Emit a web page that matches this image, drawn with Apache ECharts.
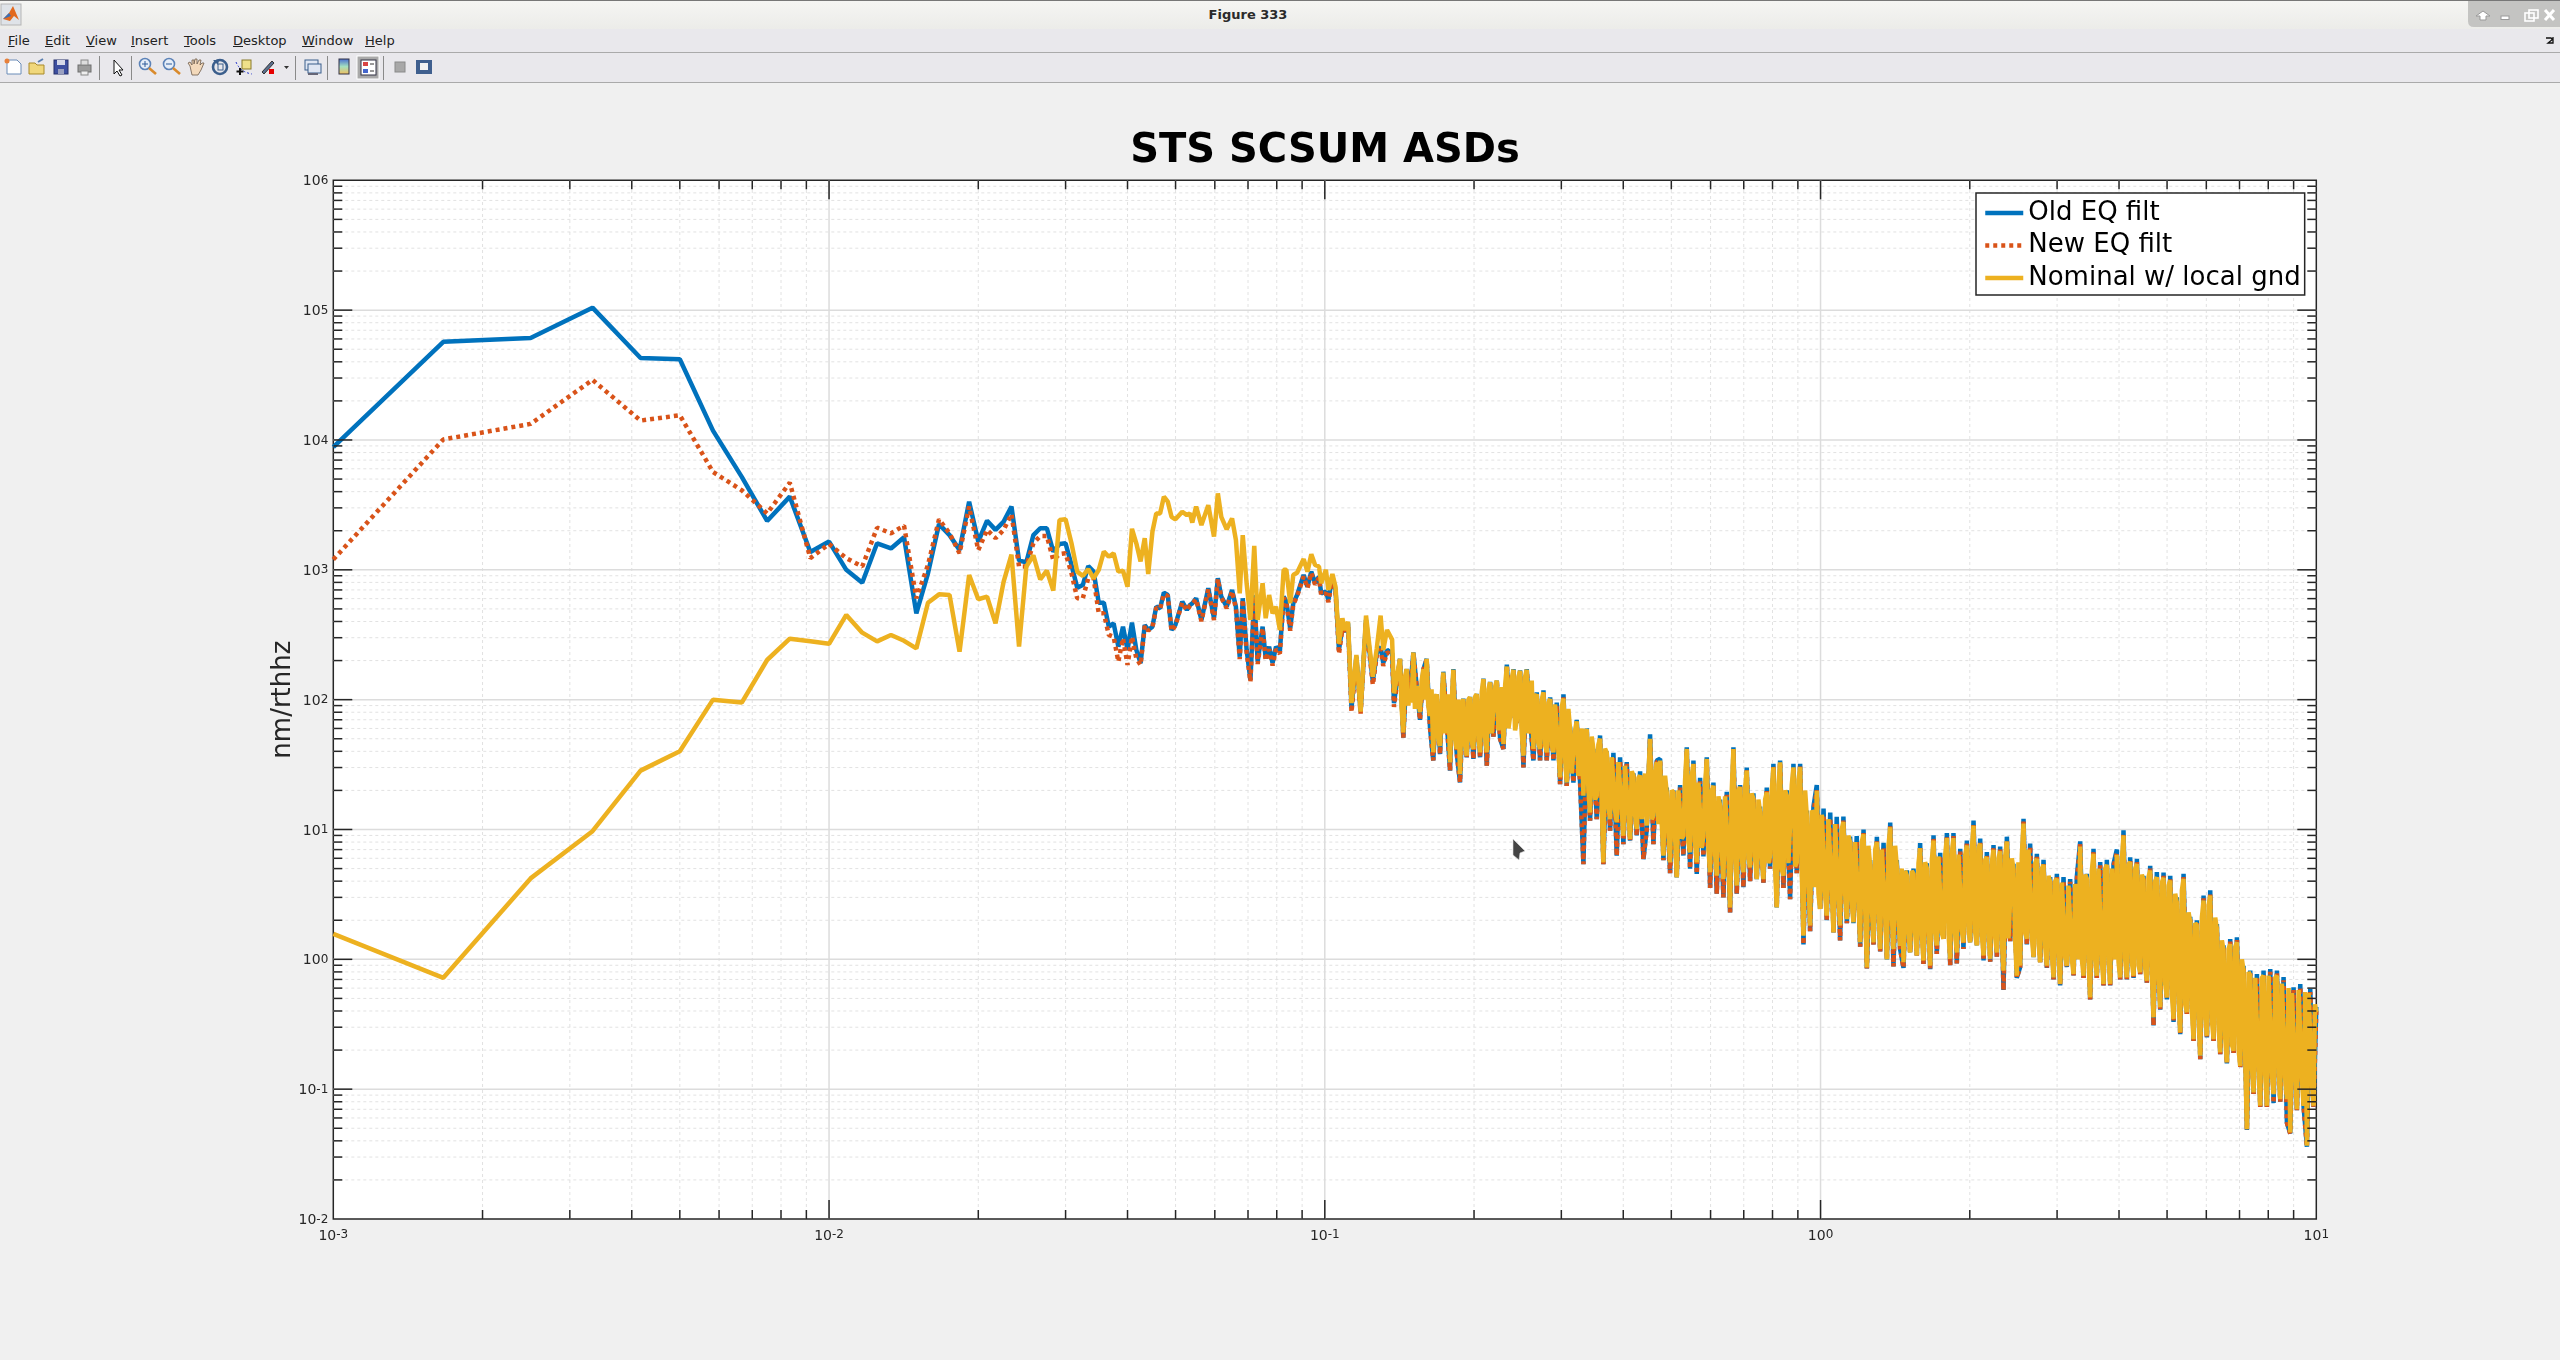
<!DOCTYPE html>
<html>
<head>
<meta charset="utf-8">
<title>Figure 333</title>
<script src="https://cdn.jsdelivr.net/npm/echarts@6/dist/echarts.min.js"></script>
<style>
html,body{margin:0;padding:0;background:#f0f0f0;overflow:hidden;width:2560px;height:1360px;font-family:"DejaVu Sans",sans-serif;}
#chart{position:absolute;left:0;top:0;width:2560px;height:1360px;}
#titlebar{position:absolute;left:0;top:0;width:2560px;height:29px;background:linear-gradient(#f5f5f3,#ecece9);border-top:1px solid #777;box-sizing:border-box;text-align:center;font:bold 13px "DejaVu Sans";line-height:27px;color:#2a2a2a;padding-right:64px;}
#menubar{position:absolute;left:0;top:29px;width:2560px;height:23px;background:#e9e8ec;border-bottom:1px solid #aaa;box-sizing:content-box;font:13px "DejaVu Sans";color:#222;}
#menubar span{position:absolute;top:4px;}
#menubar u{text-decoration:underline;}
#toolbar{position:absolute;left:0;top:53px;width:2560px;height:29px;background:#e9e8ec;border-bottom:1px solid #aaa;}
#chrome{position:absolute;left:0;top:0;pointer-events:none;}
</style>
</head>
<body>
<div id="chart"></div>
<div id="titlebar">Figure 333</div>
<div id="menubar">
<span style="left:8px"><u>F</u>ile</span><span style="left:45px"><u>E</u>dit</span><span style="left:86px"><u>V</u>iew</span><span style="left:131px"><u>I</u>nsert</span><span style="left:184px"><u>T</u>ools</span><span style="left:233px"><u>D</u>esktop</span><span style="left:302px"><u>W</u>indow</span><span style="left:365px"><u>H</u>elp</span>
</div>
<div id="toolbar"></div>
<svg id="chrome" width="2560" height="1360" xmlns="http://www.w3.org/2000/svg">
 <rect x="1" y="4" width="20" height="21" fill="#dfe3e8" stroke="#b5b5b5"/>
 <path d="M3 19 L9 13 L13 6 L19 20 L14 16 L10 21 Z" fill="#e2691e"/><path d="M3 19 L9 13 L11 16 Z" fill="#3a6fb5"/>
 <path d="M2468 1 H2560 V27 H2474 Q2468 27 2468 21 Z" fill="#c4c4c2"/>
 <path d="M2483 11 L2476 16 H2480 V20 H2486 V16 H2490 Z" fill="#fff" stroke="#999"/>
 <rect x="2501" y="16" width="8" height="3.5" fill="#fff" stroke="#999"/>
 <rect x="2525" y="13" width="9" height="8" fill="none" stroke="#fff" stroke-width="1.6"/><rect x="2529" y="10" width="9" height="8" fill="none" stroke="#fff" stroke-width="1.6"/>
 <path d="M2545 10 L2554 20 M2554 10 L2545 20" stroke="#fff" stroke-width="3"/>
 <path d="M2546 38 h5 l2 2 M2553 37 v6 h-5 l5 -4" fill="none" stroke="#111" stroke-width="1.3"/>
 <path d="M7 60 h10 l4 4 v10 h-14 z" fill="#fff" stroke="#6b8cb8"/><circle cx="7" cy="61" r="2.5" fill="#e8803a"/>
 <path d="M29 63 h6 l2 2 h7 v9 h-15 z" fill="#f0d77c" stroke="#a98a2b"/><path d="M38 62 l5 -3" stroke="#5a7fb0" stroke-width="2"/>
 <rect x="54" y="60" width="14" height="14" fill="#3d4fa0" stroke="#26306b"/><rect x="57" y="60" width="8" height="5" fill="#d5d8e8"/><rect x="58" y="69" width="6" height="5" fill="#9aa0c0"/>
 <rect x="78" y="65" width="13" height="7" fill="#9b9b9b" stroke="#6e6e6e"/><rect x="81" y="60" width="7" height="5" fill="#ddd" stroke="#888"/><rect x="81" y="71" width="7" height="4" fill="#eee" stroke="#888"/>
 <path d="M99.5 56 v24 M131.5 56 v24 M295.5 56 v24 M327.5 56 v24 M383.5 56 v24" stroke="#8a8a8a" stroke-width="1"/>
 <path d="M114 60 v14 l3 -3 l3 5 l2 -1 l-3 -5 h4 z" fill="#fff" stroke="#111"/>
 <circle cx="145" cy="64" r="5.5" fill="#e6eef8" stroke="#5c83b8" stroke-width="1.6"/><path d="M149 68 l7 6" stroke="#d98a2b" stroke-width="2.6"/><path d="M142 64 h6 M145 61 v6" stroke="#2c5a99"/>
 <circle cx="169" cy="64" r="5.5" fill="#e6eef8" stroke="#5c83b8" stroke-width="1.6"/><path d="M173 68 l7 6" stroke="#d98a2b" stroke-width="2.6"/><path d="M166 64 h6" stroke="#2c5a99"/>
 <path d="M190 66 l-2 -3 l2 -1 l2 3 v-5 h2 v4 l1 -5 h2 l0 5 l2 -4 h2 l-1 5 l2 -2 h2 l-3 7 l-3 5 h-6 z" fill="#f3d9bb" stroke="#6c5a4a" stroke-width=".8"/>
 <circle cx="220" cy="67" r="7" fill="none" stroke="#3b5e8c" stroke-width="2.6"/><path d="M213 60 h6 l-1 5 z" fill="#3b5e8c"/><rect x="218" y="64" width="5" height="6" fill="none" stroke="#3b5e8c"/>
 <rect x="242" y="60" width="9" height="9" fill="#efe08a" stroke="#8a7a2b"/><path d="M236 62 q4 10 16 12" fill="none" stroke="#2233cc" stroke-dasharray="2 2"/><path d="M240 68 v7 M236.5 71.5 h7" stroke="#111" stroke-width="2"/>
 <path d="M262 72 l10 -11 l2 2 l-10 11 z" fill="#5a6f8f" stroke="#333"/><rect x="269" y="69" width="5" height="5" fill="#e60000"/><path d="M284 66 h5 l-2.5 3 z" fill="#333"/>
 <rect x="305" y="60" width="13" height="10" fill="#dfe6f3" stroke="#3b5e8c"/><rect x="308" y="64" width="13" height="9" fill="#dfe6f3" stroke="#3b5e8c"/><path d="M308 74 h10" stroke="#667" stroke-width="2"/>
 <defs><linearGradient id="cb" x1="0" y1="0" x2="0" y2="1"><stop offset="0" stop-color="#4a6fd0"/><stop offset=".5" stop-color="#a4e0c0"/><stop offset="1" stop-color="#f0c060"/></linearGradient></defs>
 <rect x="339" y="59" width="10" height="15" fill="url(#cb)" stroke="#334"/>
 <rect x="357" y="56" width="22" height="23" fill="#a9a9a9" stroke="#fff"/><rect x="361" y="60" width="15" height="15" fill="#fff" stroke="#334"/><rect x="363" y="62" width="5" height="4" fill="#d94444"/><rect x="363" y="69" width="5" height="4" fill="#4466cc"/><path d="M370 64 h4 M370 71 h4" stroke="#333"/>
 <rect x="395" y="62" width="10" height="10" fill="#a8a8a8" stroke="#8a8a8a"/>
 <rect x="416" y="60" width="16" height="14" fill="#3f5f8e"/><rect x="420" y="63" width="8" height="7" fill="#f2f2f2"/>
 <path d="M1513 839 L1525 851 L1520 853 L1519 860 L1513 855 Z" fill="#444" stroke="#ddd" stroke-width=".6"/>
</svg>
<script>
// ---------- frequency (Hz) ----------
const freqLow = [
 0.001,0.001667,0.0025,0.003333,0.004167,0.005,0.005833,0.006667,0.0075,0.008333,
 0.009167,0.01,0.010833,0.011667,0.0125,0.013333,0.014167,0.015,0.015833,0.016667,
 0.0175,0.018333,0.019167,0.02,0.020833,0.021667,0.0225,0.023333,0.024167,0.025,
 0.025833,0.026667,0.0275,0.028333,0.029167,0.03,0.030833,0.031667,0.0325,0.033333,
 0.034167,0.035,0.035833,0.036667,0.0375,0.038333,0.039167,0.04,0.040833,0.041667,
 0.0425];
const freqMid = [
 0.04333,0.04404,0.04491,0.04571,0.04653,0.04736,0.04822,0.04907,0.04996,0.05158,
 0.0527,0.05346,0.05404,0.05501,0.05638,0.05821,0.05977,0.06085,0.06183,0.06341,
 0.065,0.06617,0.06736,0.06831,0.06955,0.07079,0.07206,0.07321,0.07491,0.07599,
 0.07721,0.07846,0.07972,0.08116,0.0826,0.08365,0.08516,0.08637,0.08792,0.09064,
 0.09226,0.09392,0.09559,0.09732,0.09835,0.1005,0.1017,0.1036,0.1051,0.1068,
 0.1085,0.1098,0.1114,0.1132,0.1158,0.1181,0.1211,0.125,0.1273,0.1296,
 0.1312,0.1335,0.1367,0.1379];
const freqDense = [
 .1418,.1440,.1463,.1485,.1509,.1532,.1556,.1581,.1605,.1630,
 .1655,.1681,.1708,.1734,.1761,.1789,.1817,.1845,.1874,.1903,
 .1933,.1963,.1994,.2025,.2057,.2089,.2122,.2155,.2188,.2223,
 .2257,.2293,.2329,.2365,.2402,.2439,.2477,.2516,.2555,.2595,
 .2635,.2676,.2718,.2761,.2804,.2848,.2892,.2937,.2983,.3030,
 .3076,.3124,.3173,.3222,.3273,.3324,.3376,.3428,.3482,.3536,
 .3591,.3647,.3704,.3762,.3821,.3880,.3941,.4002,.4065,.4128,
 .4193,.4258,.4325,.4392,.4461,.4530,.4601,.4673,.4746,.4820,
 .4895,.4971,.5049,.5128,.5208,.5289,.5372,.5455,.5541,.5627,
 .5715,.5804,.5895,.5987,.6080,.6175,.6271,.6369,.6469,.6569,
 .6672,.6776,.6882,.6989,.7098,.7209,.7321,.7436,.7552,.7670,
 .7790,.7911,.8034,.8160,.8287,.8416,.8548,.8681,.8817,.8955,
 .9095,.9237,.9381,.9527,.9676,.9827,.9980,1.014,1.029,1.046,
 1.062,1.078,1.095,1.112,1.130,1.147,1.165,1.183,1.202,1.221,
 1.240,1.259,1.279,1.299,1.319,1.340,1.361,1.382,1.403,1.425,
 1.447,1.470,1.493,1.516,1.540,1.564,1.588,1.613,1.638,1.664,
 1.690,1.716,1.743,1.770,1.798,1.826,1.854,1.883,1.913,1.942,
 1.973,2.003,2.035,2.067,2.099,2.132,2.165,2.199,2.233,2.268,
 2.303,2.339,2.376,2.413,2.450,2.488,2.527,2.567,2.607,2.647,
 2.689,2.731,2.773,2.817,2.861,2.905,2.951,2.997,3.043,3.091,
 3.139,3.188,3.238,3.288,3.340,3.392,3.445,3.498,3.553,3.608,
 3.665,3.722,3.780,3.839,3.899,3.960,4.022,4.084,4.148,4.213,
 4.279,4.346,4.413,4.482,4.552,4.623,4.695,4.768,4.843,4.919,
 4.996,5.074,5.153,5.233,5.315,5.398,5.482,5.568,5.655,5.743,
 5.833,5.924,6.016,6.110,6.205,6.302,6.400,6.500,6.601,6.704,
 6.810,6.916,7.024,7.133,7.245,7.358,7.472,7.589,7.707,7.827,
 7.950,8.074,8.200,8.328,8.458,8.590,8.724,8.860,8.998,9.139,
 9.282,9.427,9.574,9.723,9.875,10.0];
// extra samples of the yellow curve, read between the samples above
const freqNomExtra = [
 .1429,.1451,.1474,.1497,.1520,.1544,.1568,.1593,.1617,.1642,
 .1668,.1694,.1721,.1747,.1775,.1803,.1831,.1859,.1888,.1918,
 .1948,.1978,.2009,.2041,.2073,.2105,.2138,.2171,.2205,.2240,
 .2275,.2311,.2347,.2383,.2420,.2458,.2496,.2535,.2575,.2615,
 .2655,.2697,.2739,.2782,.2826,.2870,.2914,.2960,.3006,.3053,
 .3100,.3148,.3197,.3247,.3298,.3350,.3402,.3455,.3509,.3563,
 .3619,.3675,.3733,.3791,.3850,.3910,.3971,.4033,.4096,.4160,
 .4225,.4291,.4358,.4426,.4495,.4565,.4637,.4709,.4783,.4857,
 .4933,.5010,.5088,.5168,.5248,.5330,.5413,.5498,.5584,.5671,
 .5759,.5849,.5941,.6033,.6127,.6223,.6320,.6419,.6519,.6620,
 .6724,.6829,.6935,.7043,.7153,.7265,.7378,.7494,.7611,.7730,
 .7850,.7972,.8097,.8223,.8351,.8482,.8614,.8749,.8886,.9025,
 .9166,.9309,.9454,.9601,.9751,.9903,1.006,1.021,1.037,1.054,
 1.070,1.086,1.103,1.121,1.138,1.156,1.174,1.192,1.211,1.230,
 1.249,1.269,1.289,1.309,1.329,1.350,1.371,1.392,1.414,1.436,
 1.458,1.481,1.504,1.528,1.552,1.576,1.600,1.625,1.651,1.677,
 1.703,1.729,1.756,1.784,1.812,1.840,1.868,1.898,1.927,1.957,
 1.988,2.019,2.051,2.083,2.115,2.148,2.182,2.216,2.250,2.285,
 2.321,2.357,2.394,2.431,2.469,2.507,2.547,2.587,2.627,2.668,
 2.710,2.752,2.795,2.839,2.883,2.928,2.974,3.020,3.067,3.115,
 3.163,3.213,3.263,3.314,3.366,3.418,3.471,3.525,3.580,3.636,
 3.693,3.751,3.809,3.869,3.929,3.991,4.053,4.116,4.180,4.246,
 4.312,4.379,4.447,4.517,4.587,4.659,4.731,4.805,4.881,4.957,
 5.035,5.113,5.193,5.274,5.356,5.440,5.525,5.611,5.699,5.788,
 5.878,5.970,6.063,6.157,6.253,6.351,6.450,6.550,6.652,6.757,
 6.863,6.970,7.078,7.189,7.301,7.415,7.530,7.648,7.767,7.888,
 8.012,8.137,8.264,8.393,8.524,8.657,8.792,8.929,9.068,9.210,
 9.354,9.500,9.648,9.799,9.937];

// ---------- Old EQ filt (nm/rthhz) ----------
const oldLow = [
 8800,57000,61000,104500,42800,41800,11800,5200,2380,3660,
 1370,1650,1000,796,1600,1460,1780,462,940,2250,
 1850,1420,3350,1650,2390,2030,2350,3070,1180,1140,
 1850,2090,2090,1380,1580,1600,1090,729,763,1070,
 968,558,558,365,387,256,365,242,392,242,
 191];
const oldMid = [
 376,344,365,520,505,667,640,344,376,569,
 491,536,552,604,411,721,424,861,621,520,
 700,520,214,604,242,142,640,196,365,208,
 256,191,256,234,621,569,354,552,640,912,
 741,968,787,885,659,679,586,885,700,242,
 365,334,387,86,214,81,411,138,228,256,
 191,242,228,94];
const oldDense = [
 206,51,172,114,231,128,70,172,206,61,
 34,110,38,164,70,28.4,172,39,23,102,
 36,105,35,111,36,145,31,137,52,140,
 50,41.7,186,72,172,66,168,30,172,70,
 34,114,34,118,34,104,34,95,22.3,110,
 21.7,62,23,70,23,5.4,60,11.7,41.7,12,
 53,5.4,40,9.8,39,6.28,36,7.7,33,8.2,
 27,9,28,5.9,10,54,7.7,34,35,5.8,
 21,4.6,20,4.28,22,6.3,43,5,34,4.55,
 25,6.2,36,3.55,23,3.2,17,3,19.5,2.3,
 43,3.2,22,3.6,30,4,19,4.15,15,3.9,
 21,5,32,2.51,34,3.55,20,2.9,32,4.6,
 32,1.3,14,1.65,15,22,2.44,14.5,2,13.5,
 1.61,12.5,1.4,12.6,1.9,8.8,1.9,8.9,1.25,10,
 .85,5.8,1.3,8.8,1.15,7.9,1,11.3,.88,5.8,
 1.2,.86,4.85,1.13,5,1.07,7.85,.92,5.5,.84,
 9,1.1,6.6,1.44,9.4,.9,9.4,.93,7.1,1.2,
 8.2,1.35,11.7,1.28,8.5,.98,6.7,.96,7.6,1.05,
 7.4,.58,8.8,1.38,5.45,.72,.87,12.1,1.3,7.8,
 1.04,6.5,.95,5.85,.86,4.3,.7,4.55,.63,4.3,
 .87,4.15,.75,4.3,8.1,.72,4.55,.49,7.1,.72,
 5.6,.63,5.85,.63,5.45,7,.7,9.85,.7,6.1,
 .72,5.95,.77,4.4,.66,5.25,.31,4.7,.41,4.65,
 .49,4.4,.33,3,.265,4.55,.38,2.13,.235,2,
 .17,3.1,.25,3.4,.235,1.87,.186,1.28,.158,1.43,
 .19,1.48,.148,.89,.0485,.82,.092,.77,.073,.82,
 .073,.84,.078,.82,.08,.73,.055,.0455,.61,.069,
 .645,.073,.036,.59,.073,.43];

// ---------- New EQ filt ----------
const newLow = [
 1200,10100,13300,29000,14100,15500,5670,4100,2720,4690,
 1230,1580,1230,1060,2110,1910,2190,604,1090,2450,
 1910,1340,3070,1420,2030,1750,2030,2690,1060,1060,
 1600,1820,1820,1190,1320,1340,940,604,604,861,
 861,462,462,315,305,196,297,185,305,208,
 185];
const newMid = [
 370,340,362,510,500,650,628,338,372,560,
 485,530,545,595,402,705,410,850,610,505,
 685,505,205,590,232,138,625,188,355,200,
 245,183,245,226,610,555,340,540,625,890,
 725,950,770,865,640,660,565,860,685,225,
 350,320,372,80,205,78,398,130,220,245,
 182,232,220,88];
const newDense = [
 203,51,170,112,228,126,70,170,203,61,
 34,108,38,160,70,28.4,168,39,23,99,
 36,102,35,108,36,142,31,134,52,138,
 50,41.7,182,72,168,66,164,30,168,70,
 34,110,34,114,34,100,34,90,22.3,104,
 21.7,58,23,67,23,5.4,58,11.7,40,12,
 50,5.4,38,9.8,36,6.28,34,7.7,32,8.2,
 26,9,26,5.9,10,51,7.7,33,34,5.8,
 19.5,4.6,19.5,4.28,21,6.3,41,5.0,32.5,4.55,
 23.5,6.2,34.9,3.55,22,3.2,15.8,3.0,18.5,2.3,
 41.7,3.2,21.5,3.6,28.5,4.0,17.6,4.15,13.8,3.9,
 19.8,5.0,30.5,2.51,33,3.55,18.5,2.9,30.5,4.6,
 30.5,1.3,13,1.65,13.5,20,2.44,13,2.0,12.2,
 1.61,11.3,1.4,11.7,1.9,8.1,1.9,8.1,1.25,9.4,
 .85,5.4,1.3,8.1,1.15,7.2,1,10.6,.88,5.4,
 1.2,.86,4.6,1.13,4.7,1.07,7.45,.92,5.2,.84,
 8.55,1.1,6.25,1.44,8.9,.9,8.9,.93,6.75,1.2,
 7.8,1.35,11.1,1.28,8.05,.98,6.35,.96,7.2,1.05,
 7,.58,8.35,1.38,5.15,.72,.87,11.5,1.3,7.4,
 1.04,6.15,.95,5.55,.86,4.05,.7,4.3,.63,4.05,
 .87,3.95,.75,4.05,7.7,.72,4.3,.49,6.75,.72,
 5.3,.63,5.5,.63,5.15,6.6,.7,9.35,.7,5.8,
 .72,5.6,.77,4.2,.66,5,.31,4.45,.41,4.4,
 .49,4.2,.33,2.82,.265,4.3,.38,2.02,.235,1.9,
 .17,2.95,.25,3.2,.235,1.78,.186,1.22,.158,1.37,
 .19,1.41,.148,.85,.0485,.78,.092,.73,.073,.78,
 .073,.8,.078,.78,.08,.69,.055,.0455,.58,.069,
 .61,.073,.036,.56,.073,.41];

// ---------- Nominal w/ local gnd ----------
const nomLow = [
 1.57,.72,4.2,9.7,28.4,40,100,95,202,295,
 282,269,449,328,281,315,284,248,558,647,
 640,234,912,593,621,387,811,1310,256,1060,
 1290,845,986,692,2420,2450,1600,968,897,1014,
 861,998,1380,1260,1340,968,986,741,2070,1600,
 1160];
const nomMid = [
 1750,929,1970,2720,2720,3660,3350,2560,2450,2800,
 2640,2720,2310,3070,2210,3150,1800,3880,2560,2050,
 2490,1700,659,1850,787,411,1530,411,787,424,
 640,462,520,344,1000,1000,552,912,950,1210,
 968,1320,1090,1060,787,1000,700,929,741,270,
 424,344,398,94,221,81,444,150,248,444,
 242,344,290,112];
const nomDense = [
 206,56,172,114,231,128,80,172,206,75,
 39.3,110,44,162,75,32.9,170,41.7,26.7,101,
 37,104,41.7,110,39.3,144,39.3,136,56,140,
 56,45.5,180,75,170,69,167,37,170,75,
 41.7,110,41.7,114,39.3,101,39.3,92,25.2,102,
 23,59,26.7,68,29.2,18.2,59,13.5,41.7,18.2,
 50,5.58,39.3,12,36.6,11.4,33.9,8.95,31.9,8.45,
 26,10.1,26,12,10.7,50,12.8,32.9,33.9,6.28,
 19.3,5.58,19.3,4.28,20.5,8.95,41.7,6.67,31.9,5.58,
 23,8.95,34.9,4.68,21.7,4.41,15.2,4.15,18.2,2.51,
 41.7,3.69,21.1,4.68,28.4,5.11,17.2,4.15,13.5,4.15,
 19.3,6.28,30.1,2.51,32.9,4.41,18.2,5.58,30.1,5.58,
 30.1,1.52,12.8,1.82,13.1,19.9,2.44,12.8,2.17,12,
 1.61,11,1.82,11.4,2.04,7.96,1.93,7.96,1.35,9.2,
 .867,5.26,1.35,7.96,1.2,7.08,1,10.4,1.2,5.26,
 1.27,.95,4.42,1.13,4.55,1.07,7.17,.978,5.04,.894,
 8.22,1.28,6.01,1.44,8.58,1.01,8.58,1.13,6.5,1.35,
 7.53,1.35,10.7,1.28,7.77,1.07,6.12,1.01,6.97,1.13,
 6.78,.818,8.09,1.44,4.98,.748,.894,11.1,1.44,7.17,
 1.04,5.94,.95,5.34,.894,3.93,.726,4.17,.646,3.93,
 .894,3.81,.771,3.93,7.4,.748,4.17,.509,6.5,.748,
 5.13,.646,5.34,.646,4.98,6.38,.726,9,.726,5.6,
 .748,5.43,.794,4.05,.685,4.83,.357,4.29,.427,4.24,
 .509,4.05,.347,2.72,.274,4.17,.391,1.95,.243,1.82,
 .181,2.84,.258,3.1,.243,1.71,.192,1.17,.161,1.31,
 .198,1.35,.151,.818,.0492,.748,.0944,.706,.0745,.748,
 .0745,.771,.0916,.748,.0838,.665,.0838,.0463,.557,.0701,
 .59,.0745,.0366,.54,.0745,.391];
const nomExtra = [
 85,150,90,95,85,100,140,100,90,120,
 100,50,105,55,110,95,50,100,90,45,
 100,48,105,50,115,52,120,55,125,58,
 125,130,60,145,58,150,55,150,55,140,
 105,46,100,45,95,45,92,40,88,36,
 85,27,58,26,60,56,20,52,17,45,
 16,42,15,36,14,33,14,31,13,28,
 13,25,12,27,26,12,28,11,11,26,
 9.5,20,8.8,20,8.5,24,8,26,8,23,
 7.2,22,7,20,6.5,18,6.8,18,6.2,20,
 6.3,20,6,21,6,19,6.2,17,6,17,
 5.5,20,5,22,5,20,5.5,22,5.2,24,
 4.5,20,3.8,14,3.6,3.2,13,3.3,12,3.2,
 11,3,10,3.2,9,2.8,8,2.8,8,2.6,
 7.5,2.5,7,2.3,7,2.2,7.5,2.2,7.5,2,
 5,4.8,1.6,4.8,1.6,5.5,1.55,5.6,1.6,5.8,
 1.6,6.2,1.6,6.4,1.55,6.6,1.6,6.4,1.7,6.3,
 1.7,7,1.6,7.2,1.55,5.8,1.5,5.6,1.5,6,
 1.4,6.2,1.45,6,1.4,5.6,6.4,1.6,7,1.5,
 5.5,1.35,5,1.25,4.4,1.1,4,1.1,3.9,1.05,
 3.7,1,3.8,1,1,4.5,1,4.8,1,5,
 1,5,1,5,1,.95,5.8,1,5.4,.95,
 5,.9,4.5,.85,4.3,.8,4,.7,3.9,.65,
 3.7,.55,3.2,.5,3.4,.45,2.3,.4,1.9,.36,
 2.1,.36,2.6,.34,2.1,.3,1.4,.25,1.2,.22,
 1.25,.2,1,.17,.8,.15,.72,.14,.72,.13,
 .75,.13,.72,.13,.65,.12,.6,.55,.12,.58,
 .12,.56,.55,.11,.45];

// ---------- axes ----------
const seriesNames = ['Old EQ filt','New EQ filt','Nominal w/ local gnd'];
const xMajor = [0.001,0.01,0.1,1,10];
const yMajor = [0.01,0.1,1,10,100,1000,10000,100000,1000000];
const minorFactors = [2,3,4,5,6,7,8,9];
const X_MIN=0.001, X_MAX=10, Y_MIN=0.01, Y_MAX=1000000;

function zip(f, v, tag){
  if (f.length !== v.length) throw new Error('length mismatch '+tag+' '+f.length+' vs '+v.length);
  return f.map((x,i)=>[x,v[i]]);
}
function curve(low,mid,dense,tag){
  return [].concat(zip(freqLow,low,tag+'Low'),zip(freqMid,mid,tag+'Mid'),zip(freqDense,dense,tag+'Dense'));
}
const nomCurve = curve(nomLow,nomMid,nomDense,'nom')
  .concat(zip(freqNomExtra,nomExtra,'nomExtra'))
  .sort((p,q)=>p[0]-q[0]);
const minorsOf = majors => {
  const out=[]; majors.slice(0,-1).forEach(m=>minorFactors.forEach(k=>out.push(m*k))); return out;
};
const INK='#262626';
function gridSeries(axis, values, major){
  const tickLen = major ? 19 : 9;
  return [{
    type:'custom', coordinateSystem:'cartesian2d', silent:true, z:1, animation:false,
    data: values.map(v=> axis==='x' ? [v,Y_MIN] : [X_MIN,v]),
    renderItem(p,api){
      const v = api.value(axis==='x'?0:1);
      const a = axis==='x' ? api.coord([v,Y_MIN]) : api.coord([X_MIN,v]);
      const b = axis==='x' ? api.coord([v,Y_MAX]) : api.coord([X_MAX,v]);
      return {type:'line',shape:{x1:a[0],y1:a[1],x2:b[0],y2:b[1]},
        style:{stroke:major?'#dcdcdc':'#e2e2e2',lineWidth:major?1.5:1,lineDash:major?null:[3,3]}};
    }
  },{
    type:'custom', coordinateSystem:'cartesian2d', silent:true, z:6, animation:false,
    data: values.map(v=> axis==='x' ? [v,Y_MIN] : [X_MIN,v]),
    renderItem(p,api){
      const v = api.value(axis==='x'?0:1);
      const a = axis==='x' ? api.coord([v,Y_MIN]) : api.coord([X_MIN,v]);
      const b = axis==='x' ? api.coord([v,Y_MAX]) : api.coord([X_MAX,v]);
      const st={stroke:INK,lineWidth:1.5};
      const s = axis==='x'
        ? [[a[0],a[1],a[0],a[1]-tickLen],[b[0],b[1],b[0],b[1]+tickLen]]
        : [[a[0],a[1],a[0]+tickLen,a[1]],[b[0],b[1],b[0]-tickLen,b[1]]];
      return {type:'group',children:s.map(q=>({type:'line',shape:{x1:q[0],y1:q[1],x2:q[2],y2:q[3]},style:st}))};
    }
  }];
}
const powLabel = v => '{a|10}{b|'+Math.round(Math.log10(v))+'}';
const rich = {
  a:{fontFamily:'DejaVu Sans',fontSize:14,color:INK,verticalAlign:'bottom',lineHeight:14,padding:[6,0,0,0]},
  b:{fontFamily:'DejaVu Sans',fontSize:12,color:INK,verticalAlign:'top',lineHeight:12}
};
const lineSeries = (name,data,color,extra)=>({
  name,type:'line',data,showSymbol:false,symbol:'none',clip:false,smooth:false,
  animation:false,silent:true,z:3,
  lineStyle:Object.assign({color,width:4.5,join:'bevel',cap:'butt'},extra||{}),
  itemStyle:{color}
});

const chart = echarts.init(document.getElementById('chart'),null,{renderer:'canvas'});
chart.setOption({
  backgroundColor:'transparent',
  animation:false,
  title:{text:'STS SCSUM ASDs',left:1320,top:127,textAlign:'center',
    textStyle:{fontFamily:'DejaVu Sans',fontWeight:'bold',fontSize:40,color:'#000'}},
  grid:{left:333.3,top:180.3,width:1983,height:1038.7,show:true,backgroundColor:'#fff',borderColor:INK,borderWidth:1.5},
  legend:{
    left:1976,top:193,orient:'vertical',data:seriesNames,
    backgroundColor:'#fff',borderColor:INK,borderWidth:1.5,borderRadius:0,
    padding:[7,4,4,7],itemWidth:38,itemHeight:26,itemGap:6.5,
    selectedMode:false,z:10,
    itemStyle:{color:'transparent',borderColor:'transparent',borderWidth:0,opacity:0},
    lineStyle:{width:4.5},
    textStyle:{fontFamily:'DejaVu Sans',fontSize:26,color:'#000',lineHeight:26}
  },
  xAxis:{type:'log',logBase:10,min:X_MIN,max:X_MAX,
    axisLine:{show:false},axisTick:{show:false},splitLine:{show:false},minorTick:{show:false},minorSplitLine:{show:false},
    axisLabel:{show:true,margin:10,hideOverlap:false,showMinLabel:true,showMaxLabel:true,formatter:powLabel,rich}},
  yAxis:{type:'log',logBase:10,min:Y_MIN,max:Y_MAX,
    name:'nm/rthhz',nameLocation:'middle',nameRotate:90,nameGap:37,nameMoveOverlap:false,
    nameTextStyle:{fontFamily:'DejaVu Sans',fontSize:26,color:INK},
    axisLine:{show:false},axisTick:{show:false},splitLine:{show:false},minorTick:{show:false},minorSplitLine:{show:false},
    axisLabel:{show:true,margin:5,padding:[3,0,0,0],hideOverlap:false,showMinLabel:true,showMaxLabel:true,formatter:powLabel,rich}},
  series:[].concat(
    gridSeries('x',minorsOf(xMajor),false),
    gridSeries('y',minorsOf(yMajor),false),
    gridSeries('x',xMajor.slice(1,-1),true),
    gridSeries('y',yMajor.slice(1,-1),true),
    [
      lineSeries(seriesNames[0],curve(oldLow,oldMid,oldDense,'old'),'#0072BD'),
      lineSeries(seriesNames[1],curve(newLow,newMid,newDense,'new'),'#D95319',{type:[4,4]}),
      lineSeries(seriesNames[2],nomCurve,'#EDB120')
    ])
});
</script>
</body>
</html>
